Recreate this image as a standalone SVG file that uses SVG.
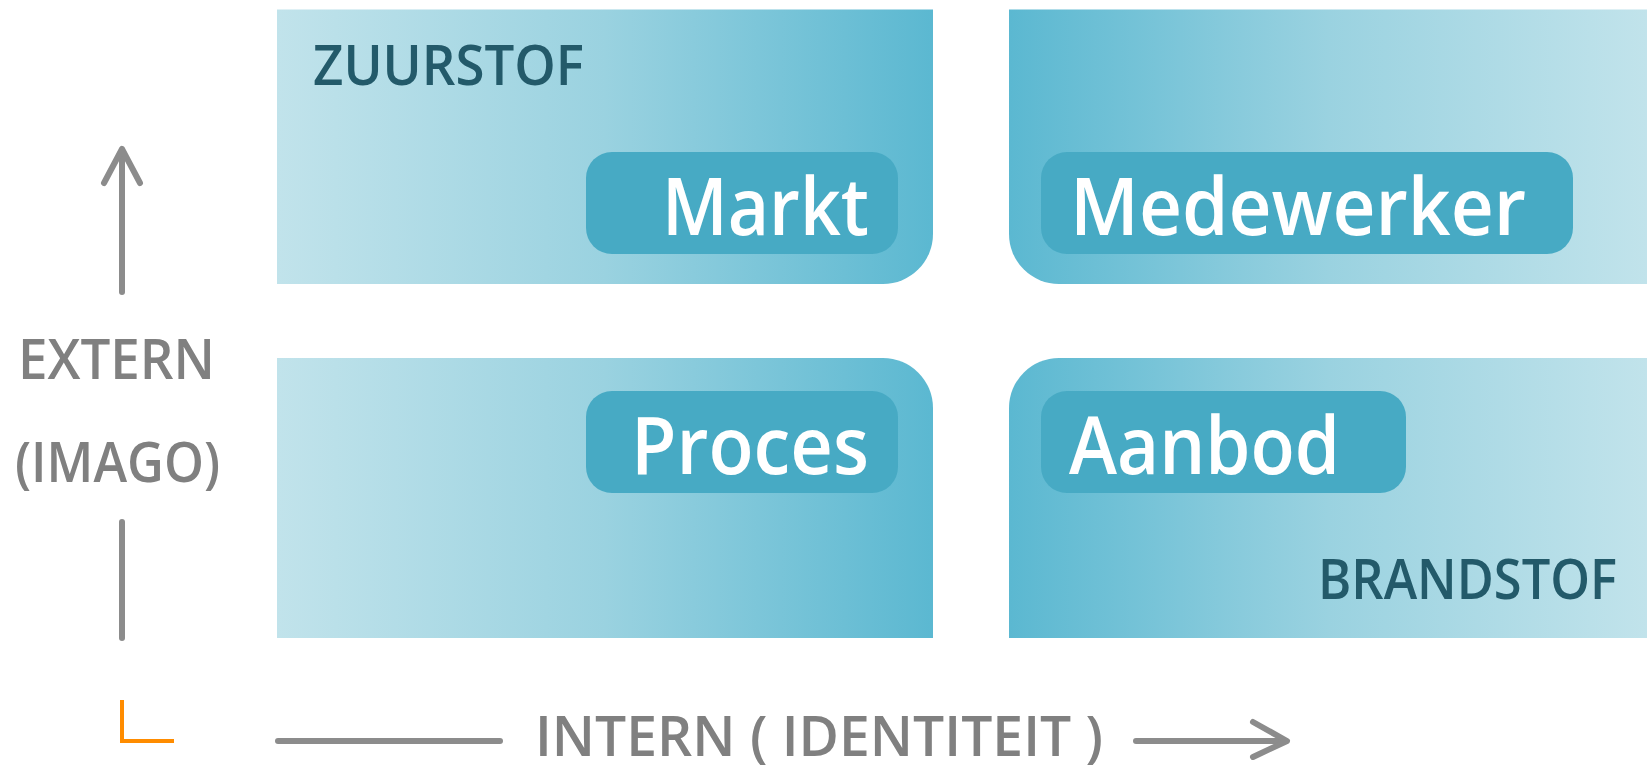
<svg xmlns="http://www.w3.org/2000/svg" width="1647" height="769" viewBox="0 0 1647 769">
<style>
.pill{fill:#47aac4}
.lbl{font-family:"Open Sans","Liberation Sans",sans-serif;font-weight:600;fill:#ffffff;font-size:80px}
.cat{font-family:"Open Sans","Liberation Sans",sans-serif;font-weight:600;fill:#235a6a;font-size:56px}
.axis{font-family:"Open Sans","Liberation Sans",sans-serif;font-weight:600;fill:#808080;font-size:56px}
.ln{stroke:#8c8c8c;stroke-width:6;fill:none;stroke-linecap:round;stroke-linejoin:round}
</style>
<defs>
<linearGradient id="gL" x1="0" y1="0" x2="1" y2="0"><stop offset="0" stop-color="#c1e3eb"/><stop offset="0.5" stop-color="#9ad2e0"/><stop offset="1" stop-color="#5bb8d1"/></linearGradient>
<linearGradient id="gR" x1="0" y1="0" x2="1" y2="0"><stop offset="0" stop-color="#5bb8d1"/><stop offset="0.5" stop-color="#9ad2e0"/><stop offset="1" stop-color="#c1e3eb"/></linearGradient>
</defs>
<g id="q-zuurstof">
<path d="M277,9.5 H933 V234 A50,50 0 0 1 883,284 H277 Z" fill="url(#gL)"/>
<text class="cat" x="313" y="85" textLength="271" lengthAdjust="spacingAndGlyphs">ZUURSTOF</text>
</g>
<g id="markt">
<rect class="pill" x="586" y="152" width="312" height="102" rx="26"/>
<text class="lbl" x="662" y="235" textLength="207" lengthAdjust="spacingAndGlyphs">Markt</text>
</g>
<g id="q-medewerker">
<path d="M1009,9.5 H1647 V284 H1059 A50,50 0 0 1 1009,234 Z" fill="url(#gR)"/>
</g>
<g id="medewerker">
<rect class="pill" x="1041" y="152" width="532" height="102" rx="26"/>
<text class="lbl" x="1070" y="235" textLength="456" lengthAdjust="spacingAndGlyphs">Medewerker</text>
</g>
<g id="q-proces">
<path d="M277,358 H883 A50,50 0 0 1 933,408 V638 H277 Z" fill="url(#gL)"/>
</g>
<g id="proces">
<rect class="pill" x="586" y="391" width="312" height="102" rx="26"/>
<text class="lbl" x="631" y="474" textLength="238" lengthAdjust="spacingAndGlyphs">Proces</text>
</g>
<g id="q-brandstof">
<path d="M1059,358 H1647 V638 H1009 V408 A50,50 0 0 1 1059,358 Z" fill="url(#gR)"/>
<text class="cat" x="1318" y="599" textLength="299" lengthAdjust="spacingAndGlyphs">BRANDSTOF</text>
</g>
<g id="aanbod">
<rect class="pill" x="1041" y="391" width="365" height="102" rx="26"/>
<text class="lbl" x="1069" y="474" textLength="271" lengthAdjust="spacingAndGlyphs">Aanbod</text>
</g>
<g id="axis-labels">
<text class="axis" x="18" y="379" textLength="197" lengthAdjust="spacingAndGlyphs">EXTERN</text>
<text class="axis" x="15" y="482" textLength="205" lengthAdjust="spacingAndGlyphs">(IMAGO)</text>
<text class="axis" x="535" y="756" font-size="53" textLength="568" lengthAdjust="spacingAndGlyphs">INTERN ( IDENTITEIT )</text>
</g>
<g id="connectors">
<line class="ln" x1="122" y1="292" x2="122" y2="150" stroke-linecap="butt"/>
<polyline class="ln" points="104,183 122,149 140,183"/>
<line class="ln" x1="122" y1="522" x2="122" y2="638" stroke-linecap="butt"/>
<line class="ln" x1="278" y1="741" x2="500" y2="741" stroke-linecap="butt"/>
<line class="ln" x1="1136" y1="741" x2="1285" y2="741" stroke-linecap="butt"/>
<polyline class="ln" points="1253,722 1287,741 1253,757"/>
<polyline points="122,700 122,741 174,741" fill="none" stroke="#ff8c00" stroke-width="4"/>
</g>
</svg>
